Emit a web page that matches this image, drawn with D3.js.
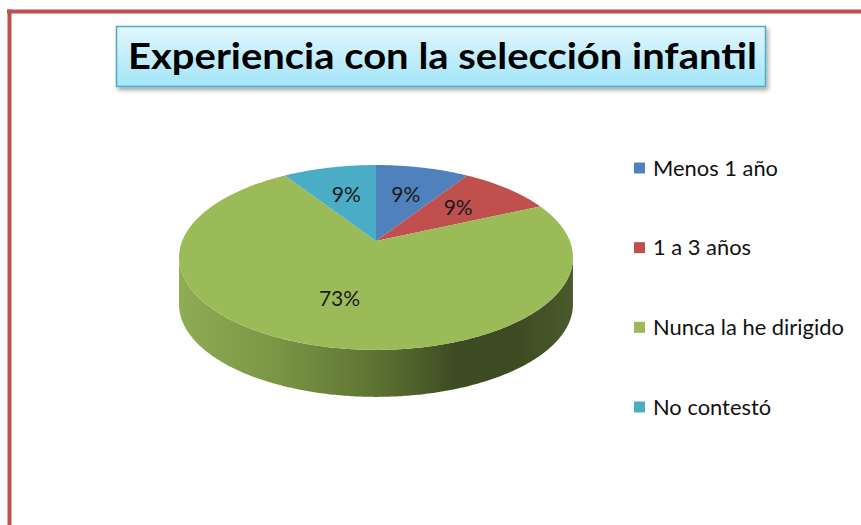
<!DOCTYPE html>
<html><head><meta charset="utf-8">
<script src="https://cdn.jsdelivr.net/npm/d3@7"></script>
<style>html,body{margin:0;padding:0;background:#fff;}svg{display:block;}</style>
</head><body>
<svg id="c" width="861" height="525"></svg>
<script>
const title = "Experiencia con la selección infantil";
const categories = ["Menos 1 año", "1 a 3 años", "Nunca la he dirigido", "No contestó"];
const values = [1, 1, 8, 1];
const colors = ["#4F81BD", "#C0504D", "#9BBB59", "#4BACC6"];

const W = 861, H = 525;
const svg = d3.select("#c");
const defs = svg.append("defs");
const FONT = "Lato, 'Open Sans', sans-serif";

// fit a text element horizontally to a target width (anchor-aware)
function fitX(sel, x, target, anchor) {
  const w = sel.node().getComputedTextLength();
  const s = target / w;
  sel.attr("x", 0).attr("transform", `translate(${x},0) scale(${s},1)`).attr("text-anchor", anchor);
}

// frame border
svg.append("rect").attr("width", W).attr("height", H).attr("fill", "#fff");
svg.append("line").attr("x1", 7).attr("x2", W).attr("y1", 11.5).attr("y2", 11.5)
  .attr("stroke", "#C0504D").attr("stroke-width", 4);
svg.append("line").attr("x1", 9.5).attr("x2", 9.5).attr("y1", 9.5).attr("y2", H)
  .attr("stroke", "#C0504D").attr("stroke-width", 4);

// title box
const tg = defs.append("linearGradient").attr("id", "tgrad").attr("x1", 0).attr("x2", 0).attr("y1", 0).attr("y2", 1);
tg.append("stop").attr("offset", "0%").attr("stop-color", "#e2f7fd");
tg.append("stop").attr("offset", "100%").attr("stop-color", "#a2e5f9");
const sh = defs.append("filter").attr("id", "shadow").attr("x", "-10%").attr("y", "-20%").attr("width", "130%").attr("height", "160%");
sh.append("feDropShadow").attr("dx", 2).attr("dy", 3).attr("stdDeviation", 2).attr("flood-color", "#000").attr("flood-opacity", 0.35);
svg.append("rect").attr("x", 116.5).attr("y", 26.5).attr("width", 649).attr("height", 60)
  .attr("fill", "url(#tgrad)").attr("stroke", "#4BACC6").attr("stroke-width", 1.5)
  .attr("filter", "url(#shadow)");
const tt = svg.append("text").attr("y", 69.5)
  .attr("font-family", FONT).attr("font-weight", "bold")
  .attr("font-size", 35.5).attr("fill", "#000").text(title);
fitX(tt, 128, 629, "start");

// 3D pie with perspective projection
const cx = 376, cy = 241;
const k = 0.178, A = 89.5, B = 193.8, depth = 47;
function proj(phi, r) {
  const u = r * Math.sin(phi), v = -r * Math.cos(phi);
  const w = 1 - k * v;
  return [cx + B * u / w, cy + A * v / w];
}
const total = d3.sum(values);
const pct = d3.format(".0%");
const pie = d3.pie().sort(null).value(d => d)(values);

function arcPts(a0, a1, r) {
  const n = Math.max(2, Math.ceil((a1 - a0) / 0.01));
  return d3.range(n + 1).map(i => proj(a0 + (a1 - a0) * i / n, r));
}

// side gradient
const sg = defs.append("linearGradient").attr("id", "sgrad").attr("gradientUnits", "userSpaceOnUse")
  .attr("x1", cx - 197).attr("x2", cx + 197).attr("y1", 0).attr("y2", 0);
[[0, "#8fac53"], [0.25, "#7a9545"], [0.5, "#5d7333"], [0.7, "#3e4c23"], [0.85, "#3d4b22"], [1, "#4a5a2c"]]
  .forEach(([o, c]) => sg.append("stop").attr("offset", o).attr("stop-color", c));

const phiR = Math.PI / 2 + Math.asin(k), phiL = 3 * Math.PI / 2 - Math.asin(k);
const line = d3.line();
pie.forEach((d, i) => {
  const s = Math.max(d.startAngle, phiR), e = Math.min(d.endAngle, phiL);
  if (e > s) {
    const top = arcPts(s, e, 1);
    const bot = top.map(p => [p[0], p[1] + depth]).reverse();
    svg.append("path").attr("d", line(top.concat(bot)) + "Z")
      .attr("fill", i === 2 ? "url(#sgrad)" : d3.color(colors[i]).darker(1));
  }
});
pie.forEach((d, i) => {
  const pts = [proj(0, 0)].concat(arcPts(d.startAngle, d.endAngle, 1));
  svg.append("path").attr("d", line(pts) + "Z").attr("fill", colors[i]);
});
pie.forEach((d, i) => {
  const m = (d.startAngle + d.endAngle) / 2;
  const p = proj(m, 0.6);
  svg.append("text").attr("x", p[0]).attr("y", p[1]).attr("dy", "0.35em")
    .attr("text-anchor", "middle").attr("font-family", FONT).attr("font-size", 21)
    .attr("fill", "#1a1a1a").text(pct(d.value / total));
});

// legend
const ly = d3.scalePoint().domain(categories).range([168, 407]);
const lg = svg.append("g");
const legendTexts = [];
categories.forEach((c, i) => {
  lg.append("rect").attr("x", 634).attr("y", ly(c) - 5.5).attr("width", 11).attr("height", 11).attr("fill", colors[i]);
  legendTexts.push(lg.append("text").attr("x", 653).attr("y", ly(c)).attr("dy", "0.35em")
    .attr("font-family", FONT).attr("font-size", 21.5).attr("fill", "#111").text(c));
});
const maxW = d3.max(legendTexts, t => t.node().getComputedTextLength());
const ls = 191 / maxW;
legendTexts.forEach(t => t.attr("x", 0).attr("transform", `translate(653,0) scale(${ls},1)`));
</script>
</body></html>
